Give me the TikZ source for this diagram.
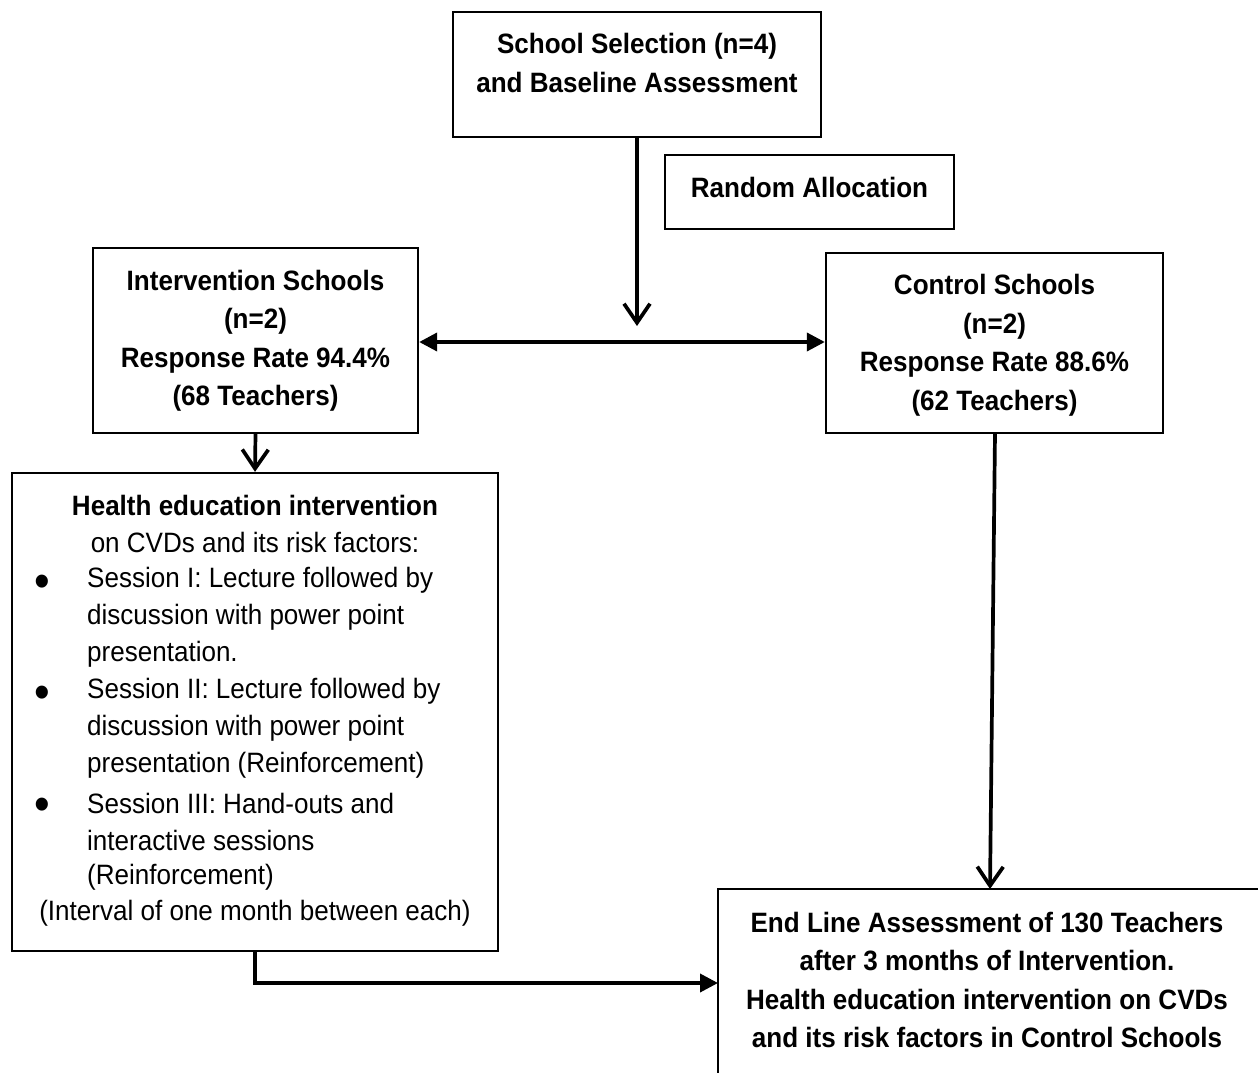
\documentclass[tikz,border=0pt]{standalone}
\usepackage{fontspec}
\setmainfont{Liberation Sans}[FakeStretch=0.93]
\usetikzlibrary{arrows.meta}
\begin{document}
\begin{tikzpicture}[x=1pt,y=-1pt,
  box/.style={draw=black,line width=2.3pt,inner sep=0pt},
  btext/.style={inner sep=0pt,align=center,font=\fontsize{28}{38.5}\selectfont\bfseries},
  plain/.style={inner sep=0pt,font=\fontsize{28}{38.5}\selectfont},
  bul/.style={inner sep=0pt,font=\fontsize{48}{48}\selectfont},
  vline/.style={line width=3.7pt,-{Straight Barb[length=19pt,width=26pt,line width=3.7pt]}},
  tline/.style={line width=3.7pt,-{Triangle[length=18pt,width=18pt]}},
  dline/.style={line width=3.7pt,{Triangle[length=18pt,width=18pt]}-{Triangle[length=18pt,width=18pt]}}]
\useasboundingbox (0,0) rectangle (1258,1073);
\clip (0,0) rectangle (1258,1073);
\fill[white] (0,0) rectangle (1258,1073);
% boxes
\node[box,minimum width=368pt,minimum height=125pt] (top) at (637,74.5) {};
\node[btext] (topt) at (637,63) {School Selection (n=4)\\and Baseline Assessment};
\node[box,minimum width=289pt,minimum height=74pt] (rand) at (809.5,192) {};
\node[btext] (randt) at (809.5,187) {Random Allocation};
\node[box,minimum width=325pt,minimum height=185pt] (int) at (255.5,340.5) {};
\node[btext] (intt) at (255.5,341) {Intervention Schools\\(n=2)\\Response Rate 94.4\%\\(68 Teachers)};
\node[box,minimum width=337pt,minimum height=180pt] (ctrl) at (994.5,343) {};
\node[btext] (ctrlt) at (994.5,345.5) {Control Schools\\(n=2)\\Response Rate 88.6\%\\(62 Teachers)};
\node[box,minimum width=486pt,minimum height=478pt] (hbox) at (255,712) {};
\node[box,minimum width=600pt,minimum height=260pt] (endb) at (1018,1019) {};
\node[btext] (endt) at (987,980) {End Line Assessment of 130 Teachers\\after 3 months of Intervention.\\Health education intervention on CVDs\\and its risk factors in Control Schools};
% health box text
\node[plain,font=\fontsize{28}{38.5}\selectfont\bfseries] (h1) at (255,505) {Health education intervention};
\node[plain] (h2) at (255,542) {on CVDs and its risk factors:};
\node[bul] (b1) at (42,586) {\textbullet};
\node[plain,anchor=west] (s1a) at (87,580) {Session I: Lecture followed by};
\node[plain,anchor=west] (s1b) at (87,617) {discussion with power point};
\node[plain,anchor=west] (s1c) at (87,654) {presentation.};
\node[bul] (b2) at (42,697) {\textbullet};
\node[plain,anchor=west] (s2a) at (87,691) {Session II: Lecture followed by};
\node[plain,anchor=west] (s2b) at (87,728) {discussion with power point};
\node[plain,anchor=west] (s2c) at (87,765) {presentation (Reinforcement)};
\node[bul] (b3) at (42,809) {\textbullet};
\node[plain,anchor=west] (s3a) at (87,803) {Session III: Hand-outs and};
\node[plain,anchor=west] (s3b) at (87,840) {interactive sessions};
\node[plain,anchor=west] (s3c) at (87,877) {(Reinforcement)};
\node[plain] (h3) at (255,913) {(Interval of one month between each)};
% connectors
\coordinate (mid) at (637,326);
\draw[vline] (top.south) -- (mid);
\draw[dline] (int.east |- 0,342) -- (ctrl.west |- 0,342);
\draw[vline] (int.south) -- (hbox.north);
\coordinate (ctop) at (995,433);
\coordinate (etop) at (990,889);
\draw[vline] (ctop) -- (etop);
\coordinate (turn) at (255,983);
\coordinate (eleft) at (718,983);
\draw[tline] (hbox.south) -- (turn) -- (eleft);
\end{tikzpicture}
\end{document}
